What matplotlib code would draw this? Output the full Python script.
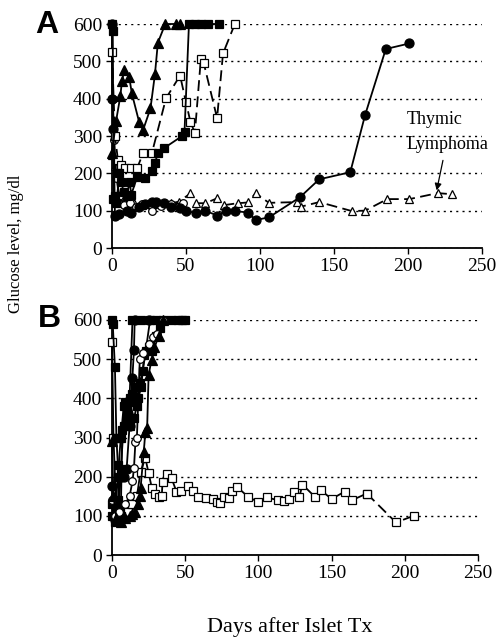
import matplotlib
matplotlib.use("Agg")
import matplotlib.pyplot as plt

plt.rcParams['font.family'] = ['Liberation Serif', 'DejaVu Serif']

# ---------------- panel A ----------------
a_fsq_day = [0, 0.5, 1, 2, 3, 5, 6, 8, 10, 12, 13, 17, 22, 27, 29, 31, 35, 47, 49, 52, 56, 60, 65, 72]
a_fsq_glu = [600, 580, 130, 140, 120, 200, 178, 150, 140, 178, 143, 190, 187, 205, 227, 254, 267, 299, 312, 600, 600, 600, 600, 600]

a_ftri_day = [0, 2.7, 5.6, 6.7, 8.3, 11.6, 13.4, 18.3, 21, 26, 29, 31, 36, 43, 46]
a_ftri_glu = [254, 339, 406, 446, 477, 459, 414, 338, 316, 374, 465, 550, 600, 600, 600]

a_osq_day = [0, 2, 4, 6, 9, 13, 17, 21, 27, 36.5, 46, 50, 53, 56, 60, 62, 71, 75, 83]
a_osq_glu = [526, 300, 236, 223, 214, 214, 214, 254, 255, 401, 462, 390, 338, 308, 505, 495, 348, 521, 600]

a_ocirc_day = [0, 0.5, 1.5, 3, 5, 8, 12, 16, 20, 27, 33, 40, 48]
a_ocirc_glu = [600, 400, 290, 187, 140, 115, 120, 110, 118, 100, 112, 118, 120]

a_fcirc_day = [0, 0.3, 1, 2, 5, 10, 13, 18, 22, 27, 30, 35, 40, 46, 50, 57, 63, 71, 77, 83, 92, 97, 106, 127, 140, 161, 171, 185, 201]
a_fcirc_glu = [600, 400, 320, 85, 90, 100, 94, 110, 118, 122, 124, 120, 110, 107, 99, 94, 100, 87, 100, 99, 95, 75, 82, 136, 184, 203, 356, 533, 548]

a_otri_day = [0, 2, 5, 10, 15, 20, 30, 40, 45, 53, 57, 63, 71, 76, 85, 92, 97, 106, 125, 128, 140, 162, 171, 186, 201, 220, 230]
a_otri_glu = [250, 220, 130, 120, 120, 115, 120, 120, 124, 146, 120, 120, 133, 115, 120, 122, 147, 121, 123, 111, 123, 99, 100, 131, 131, 147, 144]

# ---------------- panel B ----------------
b_osq_day = [0, 1, 3, 5, 8, 11, 14, 17, 19.5, 22.8, 25, 27.3, 29.5, 31.8, 34, 34.5, 37.4, 40.7, 44, 47.4,
             52, 55.5, 58.7, 64, 68.7, 72, 73.6, 76.5, 80, 82, 85.4, 92.8, 99.5, 105.6, 113.4, 117.4, 121,
             124, 128, 130, 138.5, 142.5, 150, 159, 164, 174, 194, 206]
b_osq_glu = [545, 300, 110, 95, 100, 110, 130, 150, 213, 247, 209, 170, 157, 149, 150, 187, 207, 196, 162, 164,
             176, 164, 149, 145, 142, 136, 132, 149, 145, 164, 174, 149, 136, 147, 140, 138, 142,
             162, 147, 180, 149, 166, 143, 162, 140, 157, 83, 100]

b_fsq1_day = [0, 0.5, 2, 3, 4, 5, 6, 7, 9, 10, 12, 14, 20, 30, 40, 48]
b_fsq1_glu = [600, 590, 480, 300, 230, 120, 100, 320, 390, 360, 400, 600, 600, 600, 600, 600]

b_fsq2_day = [0, 2, 4, 6, 8, 10, 12, 14, 16, 18, 20, 22, 25, 27, 30, 33, 35, 50]
b_fsq2_glu = [100, 85, 140, 220, 330, 380, 330, 410, 430, 400, 430, 510, 530, 520, 560, 580, 600, 600]

b_fsq3_day = [0, 2, 4, 6, 8, 10, 12, 15, 17, 19, 21, 23, 26, 45]
b_fsq3_glu = [130, 100, 200, 300, 380, 340, 390, 350, 380, 440, 470, 520, 600, 600]

b_fcirc_day = [0, 1, 2, 4, 6, 8, 10, 12, 13.9, 15, 15.5, 25]
b_fcirc_glu = [175, 130, 90, 100, 200, 200, 220, 330, 451, 523, 600, 600]

b_ocirc_day = [0, 2, 5, 9, 12, 14, 15, 16, 17, 19, 21, 25, 28, 31, 35]
b_ocirc_glu = [140, 100, 110, 130, 150, 188, 222, 289, 300, 500, 516, 540, 557, 565, 600]

b_ftri_day = [0, 1, 3, 6, 9, 12, 14, 16, 18, 19, 19.5, 21.7, 22.8, 24, 25, 27, 29, 32, 35]
b_ftri_glu = [290, 150, 95, 85, 95, 100, 105, 111, 130, 150, 170, 264, 315, 324, 460, 498, 530, 560, 600]

fig = plt.figure(figsize=(4.96, 6.39), dpi=100)
axA = fig.add_axes([112/496, 1-248/639, 370/496, 224/639])
axB = fig.add_axes([112/496, 1-555/639, 366/496, 235/639])


def series(ax, d, g, mk, filled, ls='-', ms=6):
    ax.plot(d, g, ls=ls, marker=mk, color='k', lw=1.3, ms=ms,
            mfc='k' if filled else 'white', mec='k', mew=0.9,
            dashes=(6, 3) if ls == '--' else (None, None), clip_on=False, zorder=3)


# panel A
series(axA, a_otri_day, a_otri_glu, '^', False, '--', 6)
series(axA, a_ocirc_day, a_ocirc_glu, 'o', False, '-', 5.5)
series(axA, a_fcirc_day, a_fcirc_glu, 'o', True, '-', 6.5)
series(axA, a_osq_day, a_osq_glu, 's', False, '--', 6)
series(axA, a_fsq_day, a_fsq_glu, 's', True, '-', 6)
series(axA, a_ftri_day, a_ftri_glu, '^', True, '-', 6.5)

axA.text(199, 343, 'Thymic', fontsize=13, va='center', ha='left')
axA.text(199, 276, 'Lymphoma', fontsize=13, va='center', ha='left')
axA.annotate('', xy=(219, 147), xytext=(224, 242),
             arrowprops=dict(arrowstyle='-|>', color='k', lw=0.9, mutation_scale=10))

# panel B
series(axB, b_osq_day[:-2], b_osq_glu[:-2], 's', False, '-', 6)
series(axB, b_osq_day[-3:], b_osq_glu[-3:], 's', False, '--', 6)
series(axB, b_fsq1_day, b_fsq1_glu, 's', True, '-', 6)
series(axB, b_fsq2_day, b_fsq2_glu, 's', True, '-', 6)
series(axB, b_fsq3_day, b_fsq3_glu, 's', True, '-', 6)
series(axB, b_fcirc_day, b_fcirc_glu, 'o', True, '-', 6.5)
series(axB, b_ocirc_day, b_ocirc_glu, 'o', False, '-', 5.5)
series(axB, b_ftri_day, b_ftri_glu, '^', True, '-', 6.5)

for ax in (axA, axB):
    ax.set_xlim(0, 250)
    ax.set_ylim(0, 600)
    ax.set_xticks(range(0, 251, 50))
    ax.set_yticks(range(0, 601, 100))
    ax.spines['top'].set_visible(False)
    ax.spines['right'].set_visible(False)
    ax.spines['left'].set_linewidth(1.3)
    ax.spines['bottom'].set_linewidth(1.3)
    ax.yaxis.grid(True, linestyle=(0, (1.5, 3)), color='k', lw=1)
    ax.set_axisbelow(True)
    ax.tick_params(direction='out', length=4, width=1, labelsize=14, pad=3)

fig.text(35/496, 1-33/639, 'A', fontsize=23, fontweight='bold', family='Liberation Sans', va='baseline')
fig.text(38/496, 1-327/639, 'B', fontsize=23, fontweight='bold', family='Liberation Sans', va='baseline')
fig.text(16/496, 1-244/639, 'Glucose level, mg/dl', fontsize=12, rotation=90, ha='center', va='center')
fig.text(290/496, 1-627/639, 'Days after Islet Tx', fontsize=16, ha='center', va='center')

plt.savefig('out.png', dpi=100)
